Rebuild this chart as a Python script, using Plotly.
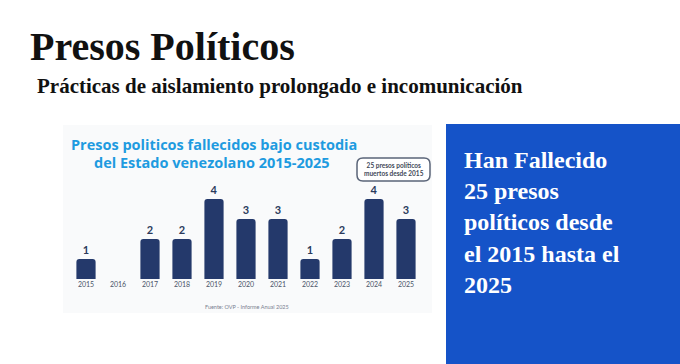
import plotly.graph_objects as go

years = ["2015", "2016", "2017", "2018", "2019", "2020", "2021", "2022", "2023", "2024", "2025"]
deaths = [1, 0, 2, 2, 4, 3, 3, 1, 2, 4, 3]
labels = ["1", "", "2", "2", "4", "3", "3", "1", "2", "4", "3"]

W, H = 680, 364

def py(px):
    return 1 - px / H

def pxx(px):
    return px / W

def rounded_rect(x0, y0, x1, y1, r):
    X = lambda v: pxx(v)
    Y = lambda v: py(v)
    rx, ry = r / W, r / H
    return (f"M {X(x0)+rx},{Y(y0)} L {X(x1)-rx},{Y(y0)} Q {X(x1)},{Y(y0)} {X(x1)},{Y(y0)-ry} "
            f"L {X(x1)},{Y(y1)+ry} Q {X(x1)},{Y(y1)} {X(x1)-rx},{Y(y1)} "
            f"L {X(x0)+rx},{Y(y1)} Q {X(x0)},{Y(y1)} {X(x0)},{Y(y1)+ry} "
            f"L {X(x0)},{Y(y0)-ry} Q {X(x0)},{Y(y0)} {X(x0)+rx},{Y(y0)} Z")

fig = go.Figure()
fig.add_trace(go.Bar(
    x=years, y=deaths, text=labels, textposition="outside",
    textfont=dict(family="Lato", size=11, color="#2b3a5c", weight="bold"),
    marker=dict(color="#24396b", line=dict(width=0)),
    cliponaxis=False, width=0.6,
))

shapes = [
    dict(type="rect", xref="paper", yref="paper", x0=pxx(63), x1=pxx(432), y0=py(313), y1=py(125),
         fillcolor="#f9fafb", line=dict(width=0), layer="below"),
    dict(type="rect", xref="paper", yref="paper", x0=pxx(446), x1=1, y0=0, y1=py(124),
         fillcolor="#1553c8", line=dict(width=0), layer="below"),
    dict(type="path", xref="paper", yref="paper", path=rounded_rect(357, 158, 430, 181, 6),
         fillcolor="white", line=dict(color="#5a6478", width=1.5), layer="below"),
]

ann = []
ann.append(dict(text="<b>Presos Políticos</b>", x=pxx(28), y=py(46), xanchor="left", yanchor="middle",
                font=dict(family="Liberation Serif", size=40, color="#111111")))
ann.append(dict(text="<b>Prácticas de aislamiento prolongado e incomunicación</b>", x=pxx(35), y=py(86),
                xanchor="left", yanchor="middle",
                font=dict(family="Liberation Serif", size=21, color="#111111")))
ann.append(dict(text="<b>Presos politicos fallecidos bajo custodia</b>", x=pxx(214), y=py(145),
                xanchor="center", yanchor="middle",
                font=dict(family="Open Sans", size=14.5, color="#1e9be0")))
ann.append(dict(text="<b>del Estado venezolano 2015-2025</b>", x=pxx(212), y=py(162),
                xanchor="center", yanchor="middle",
                font=dict(family="Open Sans", size=14.5, color="#1e9be0")))
ann.append(dict(text="<b>25 presos políticos<br>muertos desde 2015</b>", x=pxx(393.5), y=py(169.5),
                xanchor="center", yanchor="middle",
                font=dict(family="Lato", size=6.5, color="#3e4858")))
ann.append(dict(text="Fuente: OVP - Informe Anual 2025", x=pxx(247), y=py(307), xanchor="center", yanchor="middle",
                font=dict(family="Lato", size=5.5, color="#7a8090")))
side_text = "<br>".join("<b>" + t + "</b>" for t in
                        ["Han Fallecido", "25 presos", "políticos desde", "el 2015 hasta el", "2025"])
ann.append(dict(text=side_text, x=pxx(462), y=py(145), xanchor="left", yanchor="top", align="left",
                font=dict(family="Liberation Serif", size=24, color="white")))
for a in ann:
    a.update(xref="paper", yref="paper", showarrow=False)

fig.update_layout(
    width=W, height=H, margin=dict(l=0, r=0, t=0, b=0),
    paper_bgcolor="white", plot_bgcolor="rgba(0,0,0,0)",
    showlegend=False, shapes=shapes, annotations=ann,
    barcornerradius=3,
    xaxis=dict(domain=[pxx(70), pxx(422)], type="category", showgrid=False, zeroline=False,
               showline=False, ticks="", tickfont=dict(family="Lato", size=7, color="#4a5468")),
    yaxis=dict(domain=[py(279), py(179)], range=[0, 5], visible=False),
)

fig.write_html("out.html")
